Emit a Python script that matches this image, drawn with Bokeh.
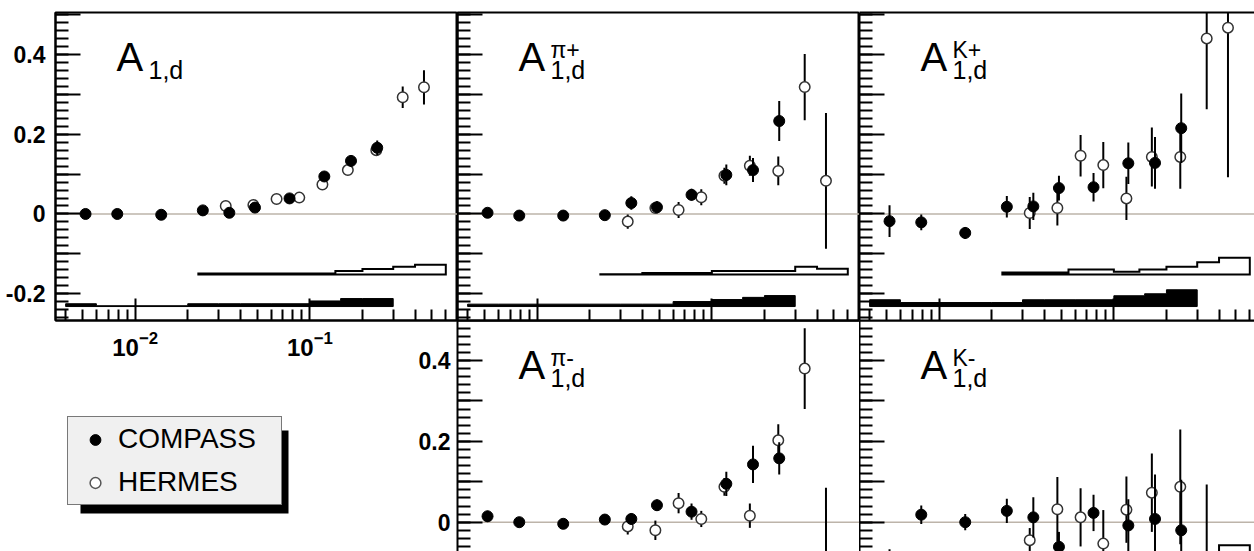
import math
from bokeh.plotting import figure
from bokeh.layouts import row, column
from bokeh.models import (Range1d, FixedTicker, LogAxis, CustomJSTickFormatter, Span, Label,
                          Legend, LegendItem, BoxAnnotation, ColumnDataSource, LogTickFormatter)
from bokeh.embed import file_html
from bokeh.resources import INLINE

# ---------------- data ----------------
X_COMPASS = [0.0052, 0.0079, 0.0141, 0.0244, 0.0346, 0.0485, 0.0765, 0.121, 0.172, 0.243]
X_HERMES = [0.033, 0.0475, 0.0645, 0.087, 0.118, 0.165, 0.24, 0.34, 0.45]

COMPASS_BINS = [0.004, 0.006, 0.01, 0.02, 0.03, 0.04, 0.06, 0.1, 0.15, 0.2, 0.3]
HERMES_BINS = [0.023, 0.04, 0.055, 0.075, 0.1, 0.14, 0.2, 0.3, 0.4, 0.6]

# A_1,d
A1D_C_Y = [0.0, 0.0, -0.002, 0.009, 0.003, 0.016, 0.039, 0.094, 0.133, 0.166]
A1D_C_E = [0.004, 0.004, 0.004, 0.005, 0.005, 0.006, 0.007, 0.01, 0.014, 0.018]
A1D_H_Y = [0.02, 0.0225, 0.0375, 0.041, 0.074, 0.11, 0.16, 0.2925, 0.3175]
A1D_H_E = [0.006, 0.006, 0.007, 0.008, 0.009, 0.011, 0.014, 0.027, 0.043]
A1D_C_SYS = [0.007, 0.002, 0.002, 0.007, 0.007, 0.007, 0.007, 0.014, 0.02, 0.02]
A1D_H_SYS = [0.003, 0.003, 0.003, 0.003, 0.003, 0.009, 0.014, 0.02, 0.025]

# A_1,d^pi+
PIP_C_Y = [0.003, -0.004, -0.004, -0.003, 0.0275, 0.017, 0.048, 0.098, 0.11, 0.233]
PIP_C_E = [0.01, 0.006, 0.006, 0.008, 0.017, 0.015, 0.015, 0.026, 0.03, 0.05]
PIP_H_Y = [-0.019, 0.015, 0.01, 0.042, 0.096, 0.121, 0.108, 0.318, 0.083]
PIP_H_E = [0.018, 0.012, 0.02, 0.02, 0.02, 0.025, 0.036, 0.083, 0.17]
PIP_C_SYS = [0.006, 0.006, 0.006, 0.006, 0.006, 0.006, 0.0125, 0.0175, 0.023, 0.0275]
PIP_H_SYS = [0.001, 0.004, 0.004, 0.004, 0.009, 0.009, 0.009, 0.02, 0.015]

# A_1,d^K+
KP_C_Y = [-0.018, -0.021, -0.0475, 0.018, 0.019, 0.065, 0.067, 0.127, 0.128, 0.215]
KP_C_E = [0.04, 0.02, 0.015, 0.027, 0.034, 0.031, 0.036, 0.052, 0.065, 0.087]
KP_H_Y = [0.0025, 0.015, 0.146, 0.1225, 0.039, 0.143, 0.143, 0.44, 0.467]
KP_H_E = [0.04, 0.044, 0.052, 0.058, 0.054, 0.074, 0.08, 0.1775, 0.375]
KP_C_SYS = [0.017, 0.01, 0.01, 0.01, 0.017, 0.017, 0.017, 0.027, 0.032, 0.042]
KP_H_SYS = [0.005, 0.005, 0.013, 0.013, 0.007, 0.013, 0.02, 0.031, 0.042]

# A_1,d^pi-
PIM_C_Y = [0.0146, 0.0, -0.004, 0.0065, 0.008, 0.042, 0.026, 0.095, 0.143, 0.158]
PIM_C_E = [0.014, 0.006, 0.006, 0.01, 0.014, 0.014, 0.02, 0.03, 0.046, 0.04]
PIM_H_Y = [-0.0105, -0.02, 0.047, 0.008, 0.0875, 0.016, 0.2025, 0.38, -0.15]
PIM_H_E = [0.02, 0.024, 0.025, 0.02, 0.022, 0.03, 0.04, 0.1, 0.235]
PIM_C_SYS = [0.006, 0.006, 0.006, 0.006, 0.006, 0.006, 0.012, 0.018, 0.024, 0.03]
PIM_H_SYS = [0.003, 0.005, 0.005, 0.006, 0.01, 0.012, 0.015, 0.025, 0.03]

# A_1,d^K-
KM_C_Y = [-0.11, 0.0186, 0.0, 0.028, 0.012, -0.061, 0.023, -0.008, 0.008, -0.02]
KM_C_E = [0.043, 0.023, 0.02, 0.03, 0.05, 0.037, 0.045, 0.065, 0.11, 0.125]
KM_H_Y = [-0.0445, 0.032, 0.012, -0.053, 0.031, 0.073, 0.0875, -0.15, -0.3]
KM_H_E = [0.03, 0.08, 0.072, 0.083, 0.082, 0.097, 0.142, 0.243, 0.2]
KM_C_SYS = [0.02, 0.012, 0.012, 0.012, 0.02, 0.02, 0.02, 0.03, 0.04, 0.05]
KM_H_SYS = [0.01, 0.01, 0.02, 0.02, 0.02, 0.03, 0.04, 0.06, 0.095]

SYS_BASE_COMPASS = -0.232
SYS_BASE_HERMES = -0.152

MAJOR_X = [0.01, 0.1]
MINOR_X = [0.004, 0.005, 0.006, 0.007, 0.008, 0.009,
           0.02, 0.03, 0.04, 0.05, 0.06, 0.07, 0.08, 0.09,
           0.2, 0.3, 0.4, 0.5, 0.6, 0.7]
MAJOR_Y = [-0.2, -0.1, 0.0, 0.1, 0.2, 0.3, 0.4, 0.5]
MINOR_Y = [round(-0.26 + 0.02 * i, 2) for i in range(39)]

LEGEND_LABELS = ["COMPASS", "HERMES"]

# ---------------- style ----------------
FONT = "Liberation Sans"
XLO, XHI, FRAME_W = 0.0035, 0.7, 402
TOP_YR = (-0.267, 0.505)
BOT_YR = (-0.0725, 0.499)
ZERO_COLOR = "#bdb4aa"
LABEL_BAND = 56  # room under the top row for the x tick labels (overlapped by the bottom row)

Y_LABEL_JS = """
const v = Math.round(tick * 10);
if (v % 2 !== 0) { return ""; }
return v === 0 ? "0" : (v / 10).toFixed(1);
"""
EMPTY_JS = "return '';"


def xhi_for(frame_w):
    return XLO * (XHI / XLO) ** (frame_w / FRAME_W)


def blank_labels(ax):
    ax.formatter = CustomJSTickFormatter(code=EMPTY_JS)
    ax.major_label_text_font_size = "0px"
    ax.major_label_standoff = 0
    ax.axis_label = None


def style_y(ax, labels, standoff=8):
    ax.ticker = FixedTicker(ticks=MAJOR_Y, minor_ticks=MINOR_Y)
    ax.major_tick_in, ax.major_tick_out = 25, 0
    ax.minor_tick_in, ax.minor_tick_out = 13, 0
    ax.major_tick_line_width = 2
    ax.minor_tick_line_width = 2
    ax.major_tick_line_color = "black"
    ax.minor_tick_line_color = "black"
    ax.axis_line_width = 2
    ax.axis_line_color = "black"
    if labels:
        ax.formatter = CustomJSTickFormatter(code=Y_LABEL_JS)
        ax.major_label_text_font = FONT
        ax.major_label_text_font_size = "23px"
        ax.major_label_text_font_style = "bold"
        ax.major_label_text_color = "black"
        ax.major_label_standoff = standoff
    else:
        blank_labels(ax)


def style_x(ax, labels):
    ax.ticker = FixedTicker(ticks=MAJOR_X, minor_ticks=MINOR_X)
    ax.major_tick_in, ax.major_tick_out = 22, 0
    ax.minor_tick_in, ax.minor_tick_out = 11, 0
    ax.major_tick_line_width = 2
    ax.minor_tick_line_width = 2
    ax.major_tick_line_color = "black"
    ax.minor_tick_line_color = "black"
    ax.axis_line_width = 2
    ax.axis_line_color = "black"
    if labels:
        ax.formatter = LogTickFormatter()
        ax.major_label_text_font = FONT
        ax.major_label_text_font_size = "24px"
        ax.major_label_text_font_style = "bold"
        ax.major_label_text_color = "black"
        ax.major_label_standoff = 10
    else:
        blank_labels(ax)


def line_only_axis():
    ax = LogAxis(ticker=FixedTicker(ticks=[], minor_ticks=[]))
    ax.major_tick_in = ax.major_tick_out = 0
    ax.minor_tick_in = ax.minor_tick_out = 0
    ax.axis_line_width = 2
    ax.axis_line_color = "black"
    blank_labels(ax)
    return ax


def panel(width, height, frame_w, yr, bl, bt, bb, top_row, outline,
          ylabels=False, xlabels=False, standoff=8):
    p = figure(width=width, height=height, x_axis_type="log",
               x_range=Range1d(XLO, xhi_for(frame_w)), y_range=Range1d(*yr),
               x_axis_location="below" if top_row else None,
               output_backend="svg", toolbar_location=None,
               min_border_left=bl, min_border_right=0, min_border_top=bt, min_border_bottom=bb)
    p.grid.visible = False
    if top_row:
        p.background_fill_color = "white"
        p.border_fill_color = "white"
    else:
        p.background_fill_alpha = 0
        p.border_fill_alpha = 0
    p.outline_line_color = "black" if outline else None
    p.outline_line_width = 2
    style_y(p.yaxis[0], ylabels, standoff)
    if top_row:
        style_x(p.xaxis[0], xlabels)
    if not outline:
        p.add_layout(line_only_axis(), "above")
    p.add_layout(Span(location=0, dimension="width", line_color=ZERO_COLOR,
                      line_width=1.5, level="underlay"))
    return p


def add_band(p, edges, heights, base, filled):
    xs, ys = [edges[0]], [base]
    for i, h in enumerate(heights):
        xs += [edges[i], edges[i + 1]]
        ys += [base + h, base + h]
    xs.append(edges[-1])
    ys.append(base)
    p.patch(xs, ys, fill_color="black" if filled else "white", line_color="black",
            line_width=1 if filled else 2, line_join="miter")


def add_series(p, x, y, e, filled):
    src = ColumnDataSource(dict(x=x, y=y,
                                lo=[a - b for a, b in zip(y, e)],
                                hi=[a + b for a, b in zip(y, e)]))
    p.segment(x0="x", y0="lo", x1="x", y1="hi", source=src, line_color="black", line_width=2)
    if filled:
        p.scatter("x", "y", source=src, marker="circle", size=11,
                  fill_color="black", line_color="black", line_width=1)
    else:
        p.scatter("x", "y", source=src, marker="circle", size=10.5,
                  fill_color="white", line_color="#333333", line_width=1.5)


def add_title(p, frame_h, sup):
    p.add_layout(Label(x=61, y=frame_h - 44, x_units="screen", y_units="screen", text="A",
                       text_font=FONT, text_font_size="40px", text_color="black",
                       text_baseline="alphabetic"))
    p.add_layout(Label(x=93, y=frame_h - 57, x_units="screen", y_units="screen", text="1,d",
                       text_font=FONT, text_font_size="25px", text_color="black",
                       text_baseline="alphabetic"))
    if sup:
        p.add_layout(Label(x=93, y=frame_h - 37, x_units="screen", y_units="screen", text=sup,
                           text_font=FONT, text_font_size="23px", text_color="black",
                           text_baseline="alphabetic"))


def fill_panel(p, c_y, c_e, h_y, h_e, c_sys, h_sys):
    add_band(p, HERMES_BINS, h_sys, SYS_BASE_HERMES, False)
    add_band(p, COMPASS_BINS, c_sys, SYS_BASE_COMPASS, True)
    add_series(p, X_HERMES, h_y, h_e, False)
    add_series(p, X_COMPASS, c_y, c_e, True)


TOP_BT = 12
TOP_H = 320 + LABEL_BAND
BOT_H = 231
TOP_FH = 320 - TOP_BT
BOT_FH = BOT_H

p_a = panel(457, TOP_H, 402, TOP_YR, 55, TOP_BT, LABEL_BAND, True, True,
            ylabels=True, xlabels=True, standoff=10)
fill_panel(p_a, A1D_C_Y, A1D_C_E, A1D_H_Y, A1D_H_E, A1D_C_SYS, A1D_H_SYS)
add_title(p_a, TOP_FH, None)

p_pip = panel(402, TOP_H, 402, TOP_YR, 0, TOP_BT, LABEL_BAND, True, True)
fill_panel(p_pip, PIP_C_Y, PIP_C_E, PIP_H_Y, PIP_H_E, PIP_C_SYS, PIP_H_SYS)
add_title(p_pip, TOP_FH, "\u03c0+")

p_kp = panel(395, TOP_H, 395, TOP_YR, 0, TOP_BT, LABEL_BAND, True, False)
fill_panel(p_kp, KP_C_Y, KP_C_E, KP_H_Y, KP_H_E, KP_C_SYS, KP_H_SYS)
add_title(p_kp, TOP_FH, "K+")

p_pim = panel(454, BOT_H, 402, BOT_YR, 52, 0, 0, False, False, ylabels=True, standoff=7)
fill_panel(p_pim, PIM_C_Y, PIM_C_E, PIM_H_Y, PIM_H_E, PIM_C_SYS, PIM_H_SYS)
add_title(p_pim, BOT_FH, "\u03c0-")

p_km = panel(395, BOT_H, 395, BOT_YR, 0, 0, 0, False, False)
fill_panel(p_km, KM_C_Y, KM_C_E, KM_H_Y, KM_H_E, KM_C_SYS, KM_H_SYS)
add_title(p_km, BOT_FH, "K-")

# ---- bottom-left: legend (frame coordinates are pixels from its bottom-left) ----
BL_FW = 405 - 55
p_bl = figure(width=405, height=BOT_H, x_range=Range1d(0, BL_FW), y_range=Range1d(0, BOT_H),
              x_axis_location=None, y_axis_location=None,
              output_backend="svg", toolbar_location=None,
              min_border_left=55, min_border_right=0, min_border_top=0, min_border_bottom=0)
p_bl.grid.visible = False
p_bl.outline_line_color = None
p_bl.background_fill_alpha = 0
p_bl.border_fill_alpha = 0

nan = float("nan")
r_c = p_bl.scatter([nan], [nan], marker="circle", size=11, fill_color="black", line_color="black")
r_h = p_bl.scatter([nan], [nan], marker="circle", size=10, fill_color="white",
                   line_color="#555555", line_width=1.5)

p_bl.add_layout(BoxAnnotation(left=25, right=233, bottom=38, top=121,
                              fill_color="black", fill_alpha=1.0,
                              line_color=None, level="annotation"))
legend = Legend(items=[LegendItem(label=LEGEND_LABELS[0], renderers=[r_c]),
                       LegendItem(label=LEGEND_LABELS[1], renderers=[r_h])],
                location=(12, 46))
legend.background_fill_color = "#f0f0f0"
legend.background_fill_alpha = 1.0
legend.border_line_color = "black"
legend.border_line_width = 1.5
legend.label_text_font = FONT
legend.label_text_font_size = "28px"
legend.label_text_color = "black"
legend.glyph_width = 42
legend.glyph_height = 27
legend.label_standoff = 2
legend.label_width = 157
legend.label_height = 27
legend.spacing = 11
legend.padding = 6
legend.margin = 0
p_bl.add_layout(legend)

top = row(p_a, p_pip, p_kp, spacing=0)
bottom = row(p_bl, p_pim, p_km, spacing=0, styles={"margin-top": "-%dpx" % LABEL_BAND})
layout = column(top, bottom, spacing=0)

with open("out.html", "w") as f:
    f.write(file_html(layout, INLINE, title="A1d asymmetries"))
